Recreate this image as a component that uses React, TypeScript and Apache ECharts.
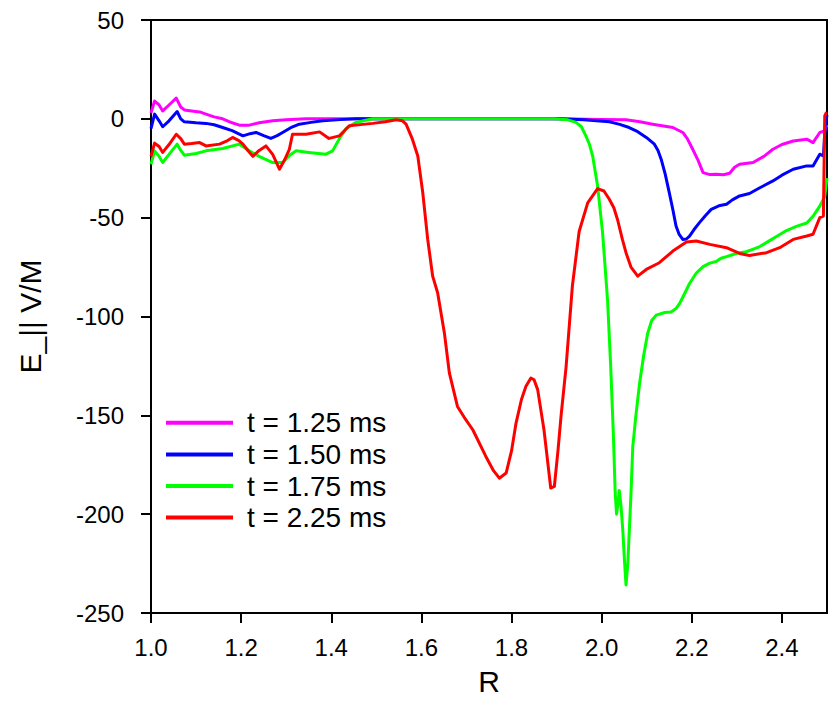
import React, { useEffect, useRef } from "react";
import * as echarts from "echarts";

const seriesNames = ["t = 1.25 ms", "t = 1.50 ms", "t = 1.75 ms", "t = 2.25 ms"];
const seriesColors = ["#FF00FF", "#0000FF", "#00FF00", "#FF0000"];

const xTicks = [1.0, 1.2, 1.4, 1.6, 1.8, 2.0, 2.2, 2.4];
const yTicks = [50, 0, -50, -100, -150, -200, -250];

const t125: number[][] = [
  [1.0, 3], [1.008, 9], [1.018, 7], [1.026, 4], [1.04, 7], [1.056, 10.5], [1.066, 6], [1.074, 4.5],
  [1.09, 4], [1.108, 3.5], [1.122, 2.4], [1.14, 1], [1.159, 0], [1.18, -2], [1.196, -3.2], [1.218, -3.2],
  [1.24, -2], [1.27, -1], [1.3, -0.5], [1.344, 0], [1.5, 0], [1.7, 0], [1.9, 0], [2.0, -0.3],
  [2.054, -0.5], [2.085, -1.5], [2.113, -2.7], [2.158, -4.4], [2.18, -6.9], [2.19, -10], [2.202, -15.4],
  [2.214, -21], [2.225, -27.2], [2.24, -28.2], [2.254, -28], [2.27, -28.3], [2.284, -27.5], [2.295, -24.5],
  [2.306, -23], [2.336, -22.1], [2.36, -19], [2.38, -15.4], [2.4, -13], [2.425, -11.2], [2.455, -10.3],
  [2.469, -12], [2.484, -6.9], [2.495, -6.1], [2.5, -3],
];

const t150: number[][] = [
  [1.0, -5], [1.008, 2.4], [1.018, -1], [1.026, -4], [1.04, -1], [1.058, 3.7], [1.066, 0], [1.074, -1.5],
  [1.1, -2], [1.122, -2.3], [1.14, -3], [1.159, -4.4], [1.18, -6], [1.204, -8.6], [1.22, -7.5], [1.233, -6.9],
  [1.25, -8.5], [1.266, -9.9], [1.28, -8.5], [1.292, -6.9], [1.31, -4.5], [1.329, -2.7], [1.355, -1.8],
  [1.381, -1], [1.42, -0.4], [1.455, 0], [1.6, 0], [1.8, 0], [1.906, 0], [1.96, -0.5], [2.017, -1.5],
  [2.04, -2.8], [2.061, -4.4], [2.08, -6.5], [2.099, -9.4], [2.117, -12.8], [2.125, -16], [2.132, -20.4],
  [2.141, -28], [2.15, -37.3], [2.158, -46], [2.165, -54.2], [2.172, -58.5], [2.18, -61], [2.188, -60.8],
  [2.195, -59.3], [2.205, -56], [2.217, -52.5], [2.23, -49], [2.243, -45.8], [2.26, -44], [2.277, -43.2],
  [2.29, -41], [2.306, -39], [2.328, -37.8], [2.35, -35], [2.38, -31.4], [2.4, -28.5], [2.425, -25.5],
  [2.455, -23.8], [2.469, -23.8], [2.484, -17.9], [2.492, -18.8], [2.496, -3.5], [2.5, 2],
];

const t175: number[][] = [
  [1.0, -23], [1.008, -16.2], [1.018, -19], [1.026, -22.1], [1.04, -18], [1.058, -12.8], [1.066, -16],
  [1.074, -18.4], [1.1, -17.5], [1.122, -16.2], [1.159, -15], [1.196, -12.8], [1.218, -16.2], [1.24, -19],
  [1.27, -22.1], [1.292, -22.1], [1.31, -18], [1.322, -16.2], [1.35, -17], [1.388, -17.9], [1.403, -16.2],
  [1.418, -10], [1.433, -4.9], [1.455, -1.8], [1.492, 0], [1.6, 0], [1.8, 0], [1.895, 0], [1.925, -0.5],
  [1.943, -1.8], [1.955, -4], [1.965, -8.6], [1.973, -13], [1.98, -18.8], [1.991, -34], [2.002, -57.6],
  [2.013, -91.4], [2.02, -125], [2.026, -160], [2.03, -189], [2.033, -200], [2.036, -195], [2.039, -188],
  [2.043, -196], [2.047, -208.7], [2.051, -225], [2.054, -235.8], [2.058, -225], [2.061, -210], [2.065, -190],
  [2.069, -166], [2.076, -150], [2.084, -134], [2.093, -120], [2.102, -108.6], [2.111, -102], [2.121, -99.3],
  [2.14, -98], [2.154, -97.7], [2.165, -96], [2.173, -93.4], [2.185, -88], [2.195, -83.3], [2.21, -78],
  [2.225, -74.8], [2.24, -73], [2.254, -72.2], [2.265, -70.5], [2.277, -69.7], [2.3, -68], [2.321, -67.2],
  [2.335, -66], [2.351, -64.6], [2.37, -62], [2.388, -59.5], [2.41, -56.5], [2.432, -54.4], [2.455, -52.7],
  [2.47, -49], [2.484, -44.2], [2.495, -39.2], [2.5, -30],
];

const t225: number[][] = [
  [1.0, -19], [1.008, -12.3], [1.018, -14], [1.026, -17], [1.04, -13], [1.056, -7.8], [1.066, -10],
  [1.074, -12.8], [1.09, -12.5], [1.108, -12], [1.122, -13.7], [1.152, -12.8], [1.17, -11], [1.181, -9.4],
  [1.195, -11], [1.204, -12.8], [1.215, -16], [1.226, -19], [1.24, -16], [1.255, -13.7], [1.27, -18],
  [1.285, -25.5], [1.296, -21], [1.307, -15.4], [1.314, -7.8], [1.344, -7.8], [1.374, -6.6], [1.395, -9.9],
  [1.418, -8.6], [1.44, -3.5], [1.47, -2.8], [1.492, -2.3], [1.52, -1.5], [1.544, -0.5], [1.558, -1],
  [1.566, -2.7], [1.58, -10.3], [1.592, -18.8], [1.603, -37.3], [1.614, -61], [1.625, -79.6], [1.636, -88],
  [1.651, -108.3], [1.662, -128.5], [1.68, -145.5], [1.695, -151], [1.714, -157.3], [1.743, -170.8],
  [1.76, -178], [1.773, -181.8], [1.788, -179.2], [1.8, -168], [1.81, -153.9], [1.822, -142], [1.832, -135.3],
  [1.843, -131.1], [1.85, -132], [1.858, -137], [1.872, -157.3], [1.887, -186.8], [1.895, -186], [1.903, -168],
  [1.91, -150], [1.921, -125.6], [1.935, -84.6], [1.95, -57], [1.969, -42.5], [1.991, -35.3], [2.005, -36.5],
  [2.017, -40.7], [2.027, -45], [2.035, -50.8], [2.046, -61], [2.054, -67.7], [2.065, -75], [2.08, -79.6],
  [2.099, -76.2], [2.128, -72.8], [2.158, -66.9], [2.188, -62.3], [2.21, -61.8], [2.24, -63.5], [2.277, -65.2],
  [2.306, -68.1], [2.328, -69.1], [2.366, -67.7], [2.395, -65.2], [2.425, -61], [2.455, -59.3], [2.469, -58.4],
  [2.484, -50], [2.492, -49.2], [2.495, 1.5], [2.499, 3.4],
];

const allData = [t125, t150, t175, t225];

const FONT = "'Liberation Sans', Arial, sans-serif";

export default function App() {
  const ref = useRef<HTMLDivElement>(null);

  useEffect(() => {
    document.body.style.margin = "0";
    if (!ref.current) return;
    const chart = echarts.init(ref.current, null, { renderer: "svg" });
    const option: any = {
      animation: false,
      backgroundColor: "#ffffff",
      textStyle: { fontFamily: FONT },
      grid: {
        left: 151,
        right: 8,
        top: 20,
        bottom: 111,
        show: true,
        borderColor: "#000",
        borderWidth: 2,
        backgroundColor: "transparent",
      },
      legend: {
        orient: "vertical",
        left: 161,
        top: 402,
        itemWidth: 67,
        itemHeight: 4,
        itemGap: 0,
        icon: "rect",
        data: seriesNames,
        textStyle: {
          fontSize: 28,
          lineHeight: 31.6,
          color: "#000",
          fontFamily: FONT,
          padding: [0, 0, 0, 9],
        },
      },
      xAxis: {
        type: "value",
        min: 1.0,
        max: 2.5,
        interval: 0.2,
        name: "R",
        nameLocation: "middle",
        nameGap: 53,
        nameTextStyle: { fontSize: 30, color: "#000", fontFamily: FONT },
        axisLine: { show: true, onZero: false, lineStyle: { color: "#000", width: 2 } },
        axisTick: { show: true, inside: false, length: 10, lineStyle: { color: "#000", width: 2 } },
        axisLabel: {
          fontSize: 24,
          color: "#000",
          margin: 22,
          fontFamily: FONT,
          showMaxLabel: false,
          formatter: (v: number) => {
            const ok = xTicks.some((t) => Math.abs(t - v) < 1e-6);
            return ok ? v.toFixed(1) : "";
          },
        },
        splitLine: { show: false },
      },
      yAxis: {
        type: "value",
        min: -250,
        max: 50,
        interval: 50,
        name: "E_|| V/M",
        nameLocation: "middle",
        nameGap: 106,
        nameTextStyle: { fontSize: 30, color: "#000", fontFamily: FONT },
        axisLine: { show: true, onZero: false, lineStyle: { color: "#000", width: 2 } },
        axisTick: { show: true, inside: false, length: 10, lineStyle: { color: "#000", width: 2 } },
        axisLabel: {
          fontSize: 24,
          color: "#000",
          margin: 27,
          fontFamily: FONT,
          formatter: (v: number) => (yTicks.includes(v) ? String(v) : ""),
        },
        splitLine: { show: false },
      },
      series: allData.map((d, i) => ({
        name: seriesNames[i],
        type: "line",
        data: d,
        showSymbol: false,
        symbol: "none",
        clip: true,
        color: seriesColors[i],
        lineStyle: { color: seriesColors[i], width: 3, join: "round" },
        z: 2 + i,
      })),
    };
    chart.setOption(option);
    return () => chart.dispose();
  }, []);

  return <div ref={ref} style={{ width: 835, height: 724 }} />;
}
